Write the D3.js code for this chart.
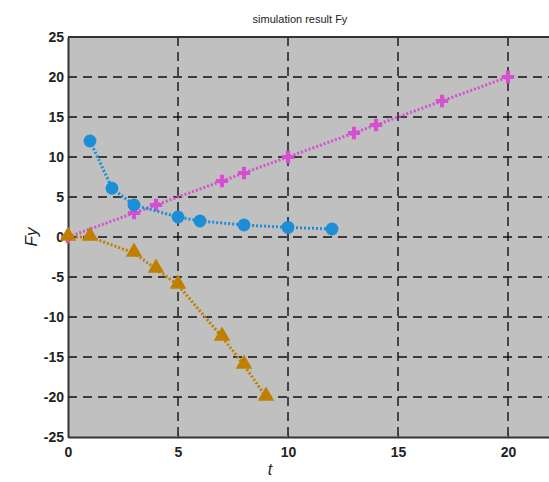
<!DOCTYPE html>
<html>
<head>
<meta charset="utf-8">
<script src="https://cdn.jsdelivr.net/npm/d3@7"></script>
<style>
  body { margin: 0; background: #fff; }
  svg { display: block; }
  .tick text { font-family: "Liberation Sans", Arial, sans-serif; font-size: 14px; fill: #222; }
</style>
</head>
<body>
<svg id="chart"></svg>
<script>
// data
const tBlue = [1, 2, 3, 5, 6, 8, 10, 12];
const fyBlue = [12, 6.1, 4, 2.5, 2, 1.5, 1.2, 1];
const tPink = [0, 3, 4, 7, 8, 10, 13, 14, 17, 20];
const fyPink = [0, 3, 4, 7, 8, 10, 13, 14, 17, 20];
const tOrange = [0, 1, 3, 4, 5, 7, 8, 9];
const fyOrange = [0, 0, -2, -4, -6, -12.5, -16, -20];
const xTicks = [0, 5, 10, 15, 20];
const yTicks = [-25, -20, -15, -10, -5, 0, 5, 10, 15, 20, 25];

let config = { width: 549, height: 482, left: 68, top: 37, bottom: 437, right: 552 };

let svg = d3.select("#chart")
  .attr("width", config.width)
  .attr("height", config.height);

let x = d3.scaleLinear().domain([0, 22]).range([config.left, config.right]);
let y = d3.scaleLinear().domain([-25, 25]).range([config.bottom, config.top]);

// plot background
svg.append("rect")
  .attr("x", config.left).attr("y", config.top)
  .attr("width", config.right - config.left)
  .attr("height", config.bottom - config.top)
  .style("fill", "#c0c0c0");

// dashed grid
let grid = svg.append("g").attr("class", "grid");
grid.selectAll("line.gx")
  .data(xTicks.filter(d => d > 0))
  .enter().append("line")
  .attr("x1", d => x(d)).attr("x2", d => x(d))
  .attr("y1", config.top).attr("y2", config.bottom)
  .style("stroke", "#111").style("stroke-width", 1.4)
  .style("stroke-dasharray", "9,6");
grid.selectAll("line.gy")
  .data(yTicks.filter(d => d > -25 && d < 25))
  .enter().append("line")
  .attr("x1", config.left).attr("x2", config.right)
  .attr("y1", d => y(d)).attr("y2", d => y(d))
  .style("stroke", "#111").style("stroke-width", 1.4)
  .style("stroke-dasharray", "9,6");

// axes (plain hyphen for negatives, like the original)
let xaxis = d3.axisBottom(x).tickValues(xTicks).tickFormat(d => String(d))
  .tickSize(-4).tickPadding(10).tickSizeOuter(0);
let yaxis = d3.axisLeft(y).tickValues(yTicks).tickFormat(d => String(d))
  .tickSize(-4).tickPadding(4).tickSizeOuter(0);

svg.append("g")
  .attr("transform", `translate(0, ${config.bottom})`)
  .call(xaxis)
  .call(g => g.select(".domain").style("stroke", "#333").style("stroke-width", 2));

svg.append("g")
  .attr("transform", `translate(${config.left}, 0)`)
  .call(yaxis)
  .call(g => g.select(".domain").style("stroke", "#333").style("stroke-width", 2));

// top border
svg.append("line")
  .attr("x1", config.left).attr("x2", config.right)
  .attr("y1", config.top).attr("y2", config.top)
  .style("stroke", "#333").style("stroke-width", 2);
svg.selectAll(".tick line").style("stroke", "#333");
svg.selectAll(".tick text").style("font-weight", "bold").style("fill", "#222");

// series
function series(ts, vs, color, kind) {
  let pts = ts.map((t, i) => [t, vs[i]]);
  svg.append("path")
    .datum(pts)
    .attr("d", d3.line().x(d => x(d[0])).y(d => y(d[1])))
    .style("fill", "none")
    .style("stroke", color)
    .style("stroke-width", 3)
    .style("stroke-dasharray", "2,2");
  let sym = kind == "circle" ? d3.symbol().type(d3.symbolCircle).size(130)
          : kind == "cross" ? d3.symbol().type(d3.symbolCross).size(85)
          : d3.symbol().type(d3.symbolTriangle).size(120);
  svg.append("g").selectAll("path")
    .data(pts)
    .enter().append("path")
    .attr("transform", d => `translate(${x(d[0])}, ${y(d[1]) + (kind == "triangle" ? -1 : 0)})`)
    .attr("d", sym)
    .style("fill", color);
}

series(tPink, fyPink, "#d64fd0", "cross");
series(tBlue, fyBlue, "#1a8fd8", "circle");
series(tOrange, fyOrange, "#c07f00", "triangle");

// title and labels
svg.append("text")
  .attr("x", 300).attr("y", 23)
  .style("text-anchor", "middle")
  .style("font-family", "Liberation Sans, Arial, sans-serif")
  .style("font-size", "11px")
  .style("fill", "#222")
  .text("simulation result Fy");

svg.append("text")
  .attr("x", 270).attr("y", 475)
  .style("text-anchor", "middle")
  .style("font-family", "Liberation Sans, Arial, sans-serif")
  .style("font-size", "16px")
  .style("font-style", "italic")
  .style("fill", "#222")
  .text("t");

svg.append("text")
  .attr("transform", `translate(37, 237) rotate(-90)`)
  .style("text-anchor", "middle")
  .style("font-family", "Liberation Sans, Arial, sans-serif")
  .style("font-size", "17px")
  .style("font-style", "italic")
  .style("fill", "#222")
  .text("Fy");
</script>
</body>
</html>
